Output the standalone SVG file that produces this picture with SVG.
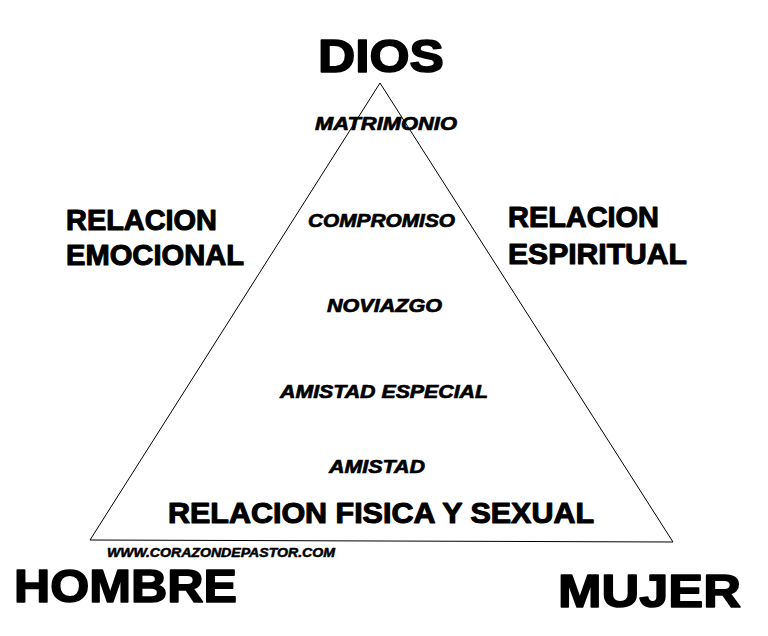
<svg xmlns="http://www.w3.org/2000/svg" width="768" height="636" viewBox="0 0 768 636">
<style>
.t{font-family:"Liberation Sans",Arial,sans-serif;font-weight:bold;fill:#000;stroke:#000;stroke-linejoin:round}
.big{font-size:47px;stroke-width:1.6}
.mid{font-size:30px;stroke-width:1.1}
.it{font-size:19px;font-style:italic;stroke-width:0.7}
.web{font-size:12px;font-style:italic;stroke-width:0.5}
.edge{fill:none;stroke:#000;stroke-width:1}
</style>
<rect width="768" height="636" fill="#fff"/>
<g id="triangle">
<path class="edge" d="M380,83 L90,540 L673,542 Z"/>
</g>
<g id="dios"><text class="t big" x="318" y="72" textLength="126" lengthAdjust="spacingAndGlyphs">DIOS</text></g>
<g id="hombre"><text class="t big" x="14" y="602" textLength="223" lengthAdjust="spacingAndGlyphs">HOMBRE</text></g>
<g id="mujer"><text class="t big" x="558" y="607" textLength="183" lengthAdjust="spacingAndGlyphs">MUJER</text></g>
<g id="relacion-emocional">
<text class="t mid" x="66" y="230" textLength="151" lengthAdjust="spacingAndGlyphs">RELACION</text>
<text class="t mid" x="66" y="265" textLength="178" lengthAdjust="spacingAndGlyphs">EMOCIONAL</text>
</g>
<g id="relacion-espiritual">
<text class="t mid" x="508" y="227" textLength="151" lengthAdjust="spacingAndGlyphs">RELACION</text>
<text class="t mid" x="508" y="264" textLength="179" lengthAdjust="spacingAndGlyphs">ESPIRITUAL</text>
</g>
<g id="matrimonio"><text class="t it" x="315" y="130" textLength="142" lengthAdjust="spacingAndGlyphs">MATRIMONIO</text></g>
<g id="compromiso"><text class="t it" x="308" y="227" textLength="147" lengthAdjust="spacingAndGlyphs">COMPROMISO</text></g>
<g id="noviazgo"><text class="t it" x="327" y="312" textLength="115" lengthAdjust="spacingAndGlyphs">NOVIAZGO</text></g>
<g id="amistad-especial"><text class="t it" x="280" y="398" textLength="208" lengthAdjust="spacingAndGlyphs">AMISTAD ESPECIAL</text></g>
<g id="amistad"><text class="t it" x="329" y="473" textLength="96" lengthAdjust="spacingAndGlyphs">AMISTAD</text></g>
<g id="relacion-fisica"><text class="t" style="font-size:29px;stroke-width:1.1" x="168" y="523" textLength="426" lengthAdjust="spacingAndGlyphs">RELACION FISICA Y SEXUAL</text></g>
<g id="web"><text class="t web" x="107" y="557" textLength="228" lengthAdjust="spacingAndGlyphs">WWW.CORAZONDEPASTOR.COM</text></g>
</svg>
